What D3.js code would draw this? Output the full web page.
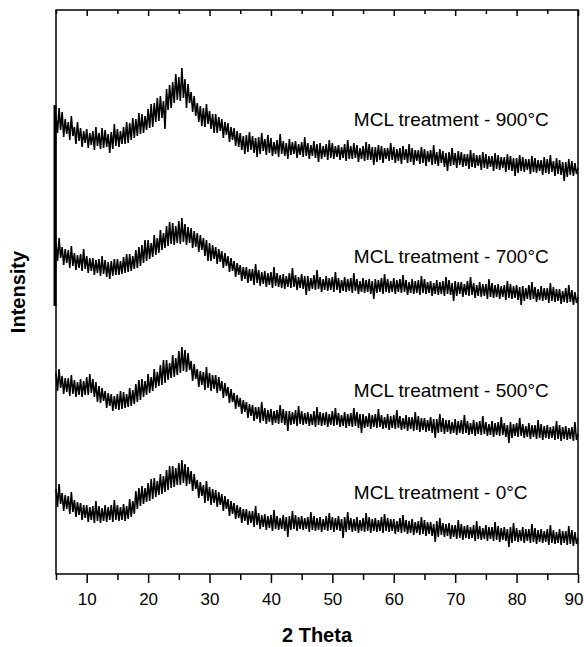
<!DOCTYPE html>
<html>
<head>
<meta charset="utf-8">
<script src="https://cdn.jsdelivr.net/npm/d3@7"></script>
<style>
body { margin: 0; background: #fff; }
text { font-family: "Liberation Sans", Arial, sans-serif; }
</style>
</head>
<body>
<script>
// XRD patterns, 2 theta from 5 to 90 in steps of 0.25 (offset per sample)
var thetaStart = 5, thetaStep = 0.25;

var s900 = [
  458,441,466,444, 462,437,455,440, 452,434,458,438, 447,430,452,433,
  446,427,443,431, 445,426,441,429, 443,424,447,428, 441,425,446,426,
  444,427,440,421, 442,425,450,428, 445,427,443,430, 447,430,452,431,
  451,434,456,436, 455,438,461,440, 460,441,458,444, 465,446,470,447,
  471,452,476,453, 478,456,473,445, 485,464,489,466, 492,471,500,474,
  497,473,506,476, 495,466,490,471, 482,462,478,458, 471,452,468,448,
  466,447,470,450, 463,445,460,441, 460,441,457,443, 455,436,452,439,
  451,432,447,434, 446,428,443,427, 441,424,438,420, 439,422,442,424,
  438,421,436,417, 437,420,441,423, 435,419,439,421, 436,418,432,420,
  434,417,440,420, 433,418,431,415, 435,419,432,420, 433,416,430,419,
  432,417,437,418, 431,415,429,418, 433,416,430,412, 431,415,428,417,
  430,414,434,416, 431,415,428,417, 429,414,427,416, 430,413,434,415,
  428,415,431,416, 429,412,426,415, 428,413,432,414, 430,414,427,409,
  427,412,429,414, 428,411,426,415, 426,413,431,414, 427,411,425,413,
  426,410,428,414, 425,411,430,412, 426,409,424,413, 424,410,427,411,
  425,408,423,412, 424,409,429,410, 422,408,425,411, 423,407,421,403,
  422,408,426,409, 421,406,423,409, 422,407,420,408, 420,405,424,407,
  421,406,419,408, 419,404,422,406, 420,405,418,407, 418,403,421,405,
  419,404,417,406, 417,402,420,404, 418,403,416,398, 416,401,419,403,
  417,402,415,404, 415,400,418,402, 416,401,414,403, 414,399,417,401,
  415,400,419,402, 413,398,416,400, 414,399,412,393, 412,397,415,399,
  413,398,411,400, 406
];

var s700 = [
  331,313,336,316, 327,309,325,311, 324,306,328,308, 321,304,319,306,
  320,303,325,305, 318,301,316,303, 316,299,314,301, 315,298,318,300,
  314,297,312,295, 313,298,315,299, 315,299,313,300, 317,301,320,302,
  320,303,318,305, 324,306,327,308, 329,311,334,313, 334,315,331,317,
  339,319,336,321, 344,324,341,326, 348,328,352,330, 351,329,348,331,
  353,330,356,332, 350,329,347,331, 346,326,343,327, 341,322,339,324,
  336,318,334,313, 331,313,329,315, 327,310,325,312, 323,306,321,308,
  318,302,316,303, 313,297,311,299, 309,293,307,295, 307,291,305,293,
  305,289,310,291, 304,288,302,290, 303,287,301,289, 302,286,307,288,
  301,287,299,286, 300,285,298,287, 301,286,306,287, 299,284,297,286,
  300,285,298,279, 298,283,296,285, 299,284,304,285, 297,282,295,284,
  298,283,296,284, 297,282,302,284, 296,281,294,283, 297,282,295,283,
  296,281,301,283, 295,280,293,282, 296,281,294,282, 295,280,293,275,
  295,281,294,282, 296,280,300,282, 295,281,293,282, 296,280,294,282,
  295,281,299,282, 294,279,292,281, 295,280,293,281, 294,279,298,281,
  295,280,292,281, 293,278,291,280, 294,279,292,280, 293,278,297,280,
  294,279,291,273, 293,278,292,280, 292,277,290,279, 293,278,297,279,
  291,276,289,278, 292,277,290,278, 290,275,295,277, 291,276,289,277,
  290,275,288,277, 289,274,293,276, 290,275,288,276, 289,274,287,269,
  288,273,286,275, 289,274,292,275, 287,272,285,274, 288,273,286,274,
  286,271,291,273, 287,272,285,273, 285,270,283,272, 286,271,289,272,
  284,269,282,271, 277
];

var s500 = [
  201,183,205,186, 198,180,196,182, 196,178,199,180, 194,177,192,179,
  195,177,193,179, 197,179,200,181, 195,177,192,172, 188,171,186,173,
  183,166,181,168, 180,163,178,165, 180,164,183,165, 182,166,180,167,
  186,168,184,170, 190,172,194,174, 195,177,193,179, 200,181,197,183,
  205,186,202,188, 209,189,214,191, 214,194,211,196, 219,197,216,199,
  223,201,227,203, 224,202,221,204, 213,193,210,195, 205,187,203,189,
  202,184,207,186, 201,183,199,185, 199,181,197,183, 193,176,191,178,
  187,171,185,172, 181,165,179,167, 176,160,174,162, 172,156,170,158,
  169,153,167,155, 167,151,172,153, 166,150,164,152, 165,149,163,151,
  164,150,169,151, 165,149,163,143, 163,149,162,150, 164,148,168,150,
  163,149,161,150, 162,148,160,149, 163,147,167,149, 162,148,161,149,
  162,147,160,149, 163,148,166,149, 161,147,159,148, 162,146,160,148,
  161,147,166,148, 162,146,160,141, 160,146,158,147, 161,145,159,147,
  160,146,165,147, 159,145,157,146, 160,144,158,146, 159,145,164,146,
  158,144,156,145, 159,143,157,145, 157,143,162,144, 158,142,156,144,
  156,142,154,143, 157,141,155,136, 155,141,160,142, 156,140,154,142,
  154,140,152,141, 155,139,153,141, 154,140,159,141, 153,139,151,140,
  154,138,152,140, 153,139,158,140, 152,138,150,139, 153,137,151,139,
  152,138,157,139, 151,137,149,131, 152,136,150,138, 151,137,156,138,
  150,136,148,137, 151,135,149,137, 149,135,154,136, 150,134,148,136,
  149,135,147,136, 148,134,153,135, 149,133,147,135, 148,134,146,135,
  147,133,152,134, 140
];

var s0 = [
  85,67,90,70, 81,63,79,65, 78,60,82,62, 74,57,72,59,
  71,54,69,56, 69,52,67,54, 68,51,73,53, 68,51,66,53,
  69,52,67,54, 69,52,74,54, 69,53,67,54, 70,53,68,55,
  75,57,73,60, 83,65,86,68, 88,70,86,72, 91,73,95,75,
  96,77,93,79, 100,80,98,82, 104,84,108,86, 108,87,106,89,
  111,89,114,91, 110,88,107,90, 103,83,100,85, 94,76,92,78,
  89,71,93,73, 87,69,85,71, 84,67,82,69, 80,63,78,65,
  75,58,73,60, 71,55,69,56, 67,51,65,53, 65,49,63,51,
  63,47,68,49, 61,45,59,47, 60,44,58,46, 59,43,64,45,
  58,44,56,45, 59,43,57,37, 58,44,63,45, 59,43,57,45,
  58,44,56,45, 57,42,62,44, 58,43,56,44, 57,42,55,44,
  58,43,61,44, 57,42,56,44, 58,43,55,36, 57,42,62,44,
  56,42,55,43, 57,41,54,43, 56,42,61,43, 57,41,55,43,
  56,42,54,43, 57,41,60,43, 56,42,55,43, 55,40,53,42,
  56,41,59,42, 54,40,53,41, 55,39,52,41, 53,39,57,40,
  54,38,52,40, 52,38,50,32, 53,37,56,39, 51,37,50,38,
  51,35,49,37, 49,35,54,36, 50,34,48,36, 49,35,47,36,
  49,33,53,35, 48,34,46,35, 49,33,47,35, 47,33,52,34,
  48,32,46,34, 47,33,45,27, 47,31,51,33, 46,32,44,33,
  47,31,45,33, 45,31,50,32, 46,30,44,32, 45,31,43,32,
  45,29,49,31, 44,30,42,31, 45,29,43,31, 43,29,48,30,
  44,28,42,30, 36
];

var series = [s900, s700, s500, s0];
var seriesNames = ["MCL treatment - 900°C", "MCL treatment - 700°C", "MCL treatment - 500°C", "MCL treatment - 0°C"];
var labelTheta = 53.5;
var labelLevel = [448, 311, 177, 75];

var xTicks = [10, 20, 30, 40, 50, 60, 70, 80, 90];
var xMinor = [5, 15, 25, 35, 45, 55, 65, 75, 85];
var xDomain = [5, 90];
var yDomain = [0, 564];
// dark stroke along the left edge at 2theta = 5 (start of the scans)
var leftEdgeTrace = [268, 469];

var width = 584, height = 647;
var margin = {top: 10, right: 6, bottom: 73, left: 56};

var svg = d3.select("body").append("svg")
  .attr("width", width)
  .attr("height", height);

var x = d3.scaleLinear().domain(xDomain).range([margin.left, width - margin.right]);
var y = d3.scaleLinear().domain(yDomain).range([height - margin.bottom, margin.top]);

// curves
var line = d3.line()
  .x(function(d, i) { return x(thetaStart + i * thetaStep); })
  .y(function(d) { return y(d); });

svg.selectAll("path.trace")
  .data(series)
  .enter()
  .append("path")
  .attr("class", "trace")
  .attr("d", line)
  .attr("fill", "none")
  .attr("stroke", "#000")
  .attr("stroke-width", 1.6)
  .attr("stroke-linejoin", "bevel");

svg.append("line")
  .attr("x1", x(thetaStart) - 1).attr("x2", x(thetaStart) - 1)
  .attr("y1", y(leftEdgeTrace[0])).attr("y2", y(leftEdgeTrace[1]))
  .attr("stroke", "#000")
  .attr("stroke-width", 3);

// labels
svg.selectAll("text.name")
  .data(seriesNames)
  .enter()
  .append("text")
  .attr("class", "name")
  .attr("x", x(labelTheta))
  .attr("y", function(d, i) { return y(labelLevel[i]); })
  .attr("font-size", 19)
  .text(function(d) { return d; });

// axes
var plotBottom = y(yDomain[0]), plotTop = y(yDomain[1]);

var xAxis = svg.append("g")
  .attr("transform", "translate(0," + plotBottom + ")")
  .call(d3.axisBottom(x).tickValues(xTicks).tickSize(9).tickPadding(10).tickFormat(d3.format("d")));
xAxis.select(".domain").remove();
xAxis.selectAll("line").attr("stroke-width", 1.5);
xAxis.selectAll("text").attr("font-size", 17).attr("fill", "#000")
  .style("font-family", '"Liberation Sans", Arial, sans-serif');
// last label sits against the edge of the figure
xAxis.selectAll("text").filter(function(d) { return d === xDomain[1]; })
  .attr("text-anchor", "end").attr("x", 5);

var xMinorAxis = svg.append("g")
  .attr("transform", "translate(0," + plotBottom + ")")
  .call(d3.axisBottom(x).tickValues(xMinor).tickSize(6).tickFormat(""));
xMinorAxis.select(".domain").remove();
xMinorAxis.selectAll("line").attr("stroke-width", 1.5);

var topAxis = svg.append("g")
  .attr("transform", "translate(0," + plotTop + ")")
  .call(d3.axisBottom(x).tickValues(xTicks).tickSize(6).tickFormat(""));
topAxis.select(".domain").remove();
topAxis.selectAll("line").attr("stroke-width", 1.5);

var topMinor = svg.append("g")
  .attr("transform", "translate(0," + plotTop + ")")
  .call(d3.axisBottom(x).tickValues(xMinor).tickSize(4).tickFormat(""));
topMinor.select(".domain").remove();
topMinor.selectAll("line").attr("stroke-width", 1.5);

svg.append("rect")
  .attr("x", x(xDomain[0]))
  .attr("y", plotTop)
  .attr("width", x(xDomain[1]) - x(xDomain[0]))
  .attr("height", plotBottom - plotTop)
  .attr("fill", "none")
  .attr("stroke", "#000")
  .attr("stroke-width", 1.5);

svg.append("text")
  .attr("x", (x(xDomain[0]) + x(xDomain[1])) / 2)
  .attr("y", 642)
  .attr("text-anchor", "middle")
  .attr("font-size", 20)
  .attr("font-weight", "bold")
  .text("2 Theta");

svg.append("text")
  .attr("transform", "translate(25," + (plotTop + plotBottom) / 2 + ") rotate(-90)")
  .attr("text-anchor", "middle")
  .attr("font-size", 20)
  .attr("font-weight", "bold")
  .text("Intensity");
</script>
</body>
</html>
